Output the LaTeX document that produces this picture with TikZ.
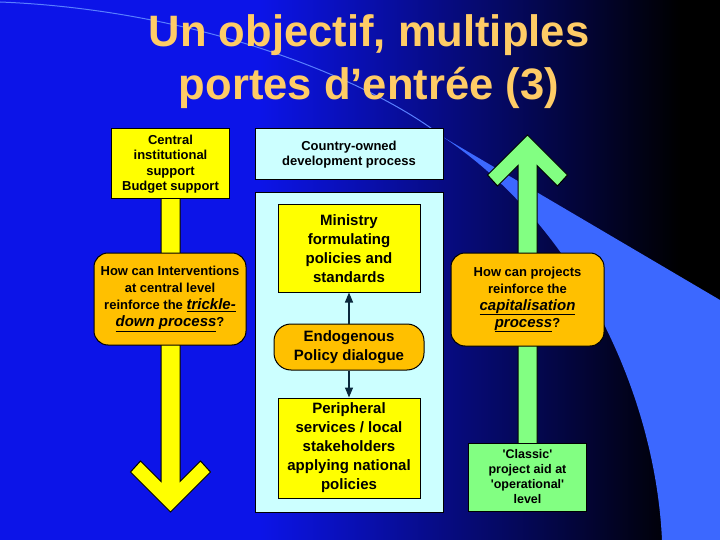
\documentclass[tikz,border=0pt]{standalone}
\usepackage{fontspec}
\setmainfont{Liberation Sans}
\usetikzlibrary{calc,arrows.meta}

\definecolor{bgblue}{RGB}{12,20,232}
\definecolor{wedgeblue}{RGB}{60,104,255}
\definecolor{titleorange}{RGB}{255,204,102}
\definecolor{boxyellow}{RGB}{255,255,0}
\definecolor{boxorange}{RGB}{255,192,0}
\definecolor{boxcyan}{RGB}{204,255,255}
\definecolor{boxgreen}{RGB}{130,255,130}
\definecolor{linkdark}{RGB}{10,40,60}

\newcommand{\ulemph}[1]{\underline{\fontsize{15}{17}\selectfont\itshape #1}}
\newcommand{\sq}{\textquotesingle}

\tikzset{
    basebox/.style={draw=black, line width=1pt, align=center, inner sep=0pt,
        font=\bfseries\fontsize{13}{15.5}\selectfont},
    yellowbox/.style={basebox, fill=boxyellow},
    bigyellow/.style={yellowbox, font=\bfseries\fontsize{15}{19}\selectfont},
    cyanbox/.style={basebox, fill=boxcyan},
    greenbox/.style={basebox, fill=boxgreen, font=\bfseries\fontsize{12.5}{15}\selectfont},
    orangebox/.style={basebox, fill=boxorange, rounded corners=14pt,
        font=\bfseries\fontsize{13}{17}\selectfont},
    titletext/.style={text=titleorange, anchor=base, inner sep=0pt,
        transform shape, xscale=0.99, font=\bfseries\fontsize{44}{53}\selectfont},
    bigarrow/.style={draw=black, line width=1pt, line join=miter},
    link/.style={draw=linkdark, line width=1.3pt, -{Triangle[width=8pt,length=10pt]}}
}

\begin{document}
\begin{tikzpicture}[x=1pt,y=-1pt]
    \useasboundingbox (0,0) rectangle (720,540);

    % Background
    \fill[bgblue] (0,0) rectangle (720,540);
    \shade[left color=bgblue, right color=black] (260,0) rectangle (680,540);
    \fill[black] (680,0) rectangle (720,540);
    \fill[wedgeblue] (443,137) -- (720,300) -- (720,540) -- (662,540)
        .. controls (655,390) and (575,225) .. (443,137) -- cycle;
    \draw[wedgeblue!85, line width=1pt] (0,2) .. controls (200,10) and (370,80) .. (443,137);

    % Title
    \node[titletext] (titleone) at (369,47) {Un objectif, multiples};
    \node[titletext] (titletwo) at (369,100) {portes d’entrée (3)};

    % Left column
    \coordinate (central) at (170.5,164);
    \coordinate (downtip) at (170.5,512);
    \draw[bigarrow, fill=boxyellow] ($(central)+(-9.5,0)$) -- ($(downtip)+(-9.5,-30.5)$)
        -- ($(downtip)+(-30,-51)$) -- ($(downtip)+(-40,-40)$) -- (downtip)
        -- ($(downtip)+(40,-40)$) -- ($(downtip)+(30,-51)$)
        -- ($(downtip)+(9.5,-30.5)$) -- ($(central)+(9.5,0)$) -- cycle;

    \node[yellowbox, minimum width=118pt, minimum height=70pt] (budget) at (central)
        {Central\\institutional\\support\\Budget support};
    \node[orangebox, minimum width=152pt, minimum height=92pt] (trickle) at (170,299)
        {How can Interventions\\at central level\\reinforce the \ulemph{trickle-}\\\ulemph{down process}?};

    % Middle column
    \node[cyanbox, minimum width=188pt, minimum height=51pt] (country) at (349,154.5)
        {Country-owned\\development process};
    \node[cyanbox, minimum width=188pt, minimum height=319pt] (panel) at (349,352.5) {};
    \node[bigyellow, minimum width=142pt, minimum height=87pt] (ministry) at (349,248.5)
        {Ministry\\formulating\\policies and\\standards};
    \node[orangebox, rounded corners=17pt, font=\bfseries\fontsize{15}{19}\selectfont,
        minimum width=150pt, minimum height=46pt] (dialogue) at (349,347)
        {Endogenous\\Policy dialogue};
    \node[bigyellow, minimum width=142pt, minimum height=100pt] (peripheral) at (349,448)
        {Peripheral\\services / local\\stakeholders\\applying national\\policies};

    \draw[link] (dialogue) -- (ministry);
    \draw[link] (dialogue) -- (peripheral);

    % Right column
    \coordinate (classicpos) at (527.5,477);
    \coordinate (uptip) at (527.5,135);
    \draw[bigarrow, fill=boxgreen] ($(classicpos)+(-9.5,0)$) -- ($(uptip)+(-9.5,30.5)$)
        -- ($(uptip)+(-30,51)$) -- ($(uptip)+(-40,40)$) -- (uptip)
        -- ($(uptip)+(40,40)$) -- ($(uptip)+(30,51)$)
        -- ($(uptip)+(9.5,30.5)$) -- ($(classicpos)+(9.5,0)$) -- cycle;

    \node[orangebox, minimum width=153pt, minimum height=93pt] (capital) at (527.5,299.5)
        {How can projects\\reinforce the\\\ulemph{capitalisation}\\\ulemph{process}?};
    \node[greenbox, minimum width=118pt, minimum height=68pt] (classic) at (classicpos)
        {\sq Classic\sq\\project aid at\\\sq operational\sq\\level};
\end{tikzpicture}
\end{document}
